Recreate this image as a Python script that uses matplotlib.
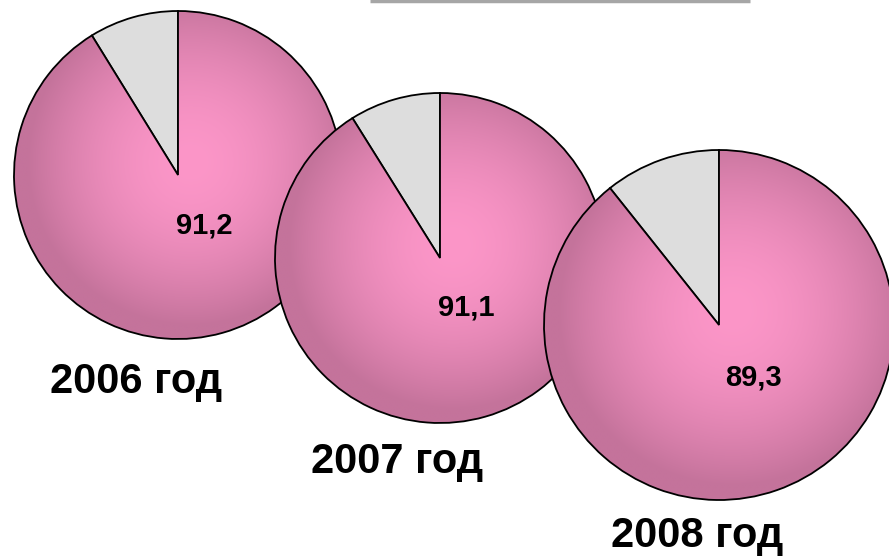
import numpy as np
import matplotlib.pyplot as plt
from matplotlib.colors import to_rgb

W, H = 889, 559

years = ['2006 год', '2007 год', '2008 год']
main_share = [91.2, 91.1, 89.3]
other_share = [8.8, 8.9, 10.7]
main_labels = ['91,2', '91,1', '89,3']

# pie layout in pixel coords (x, y from top), radius
centers = [(178, 175), (440, 258), (719, 325)]
radii = [164, 165, 175]
value_offsets = [(26, 51), (26, 49), (34, 52)]
year_pos = [(136, 393), (397, 473), (697, 547)]

light = np.array(to_rgb('#FC96C8'))
dark = np.array(to_rgb('#C4739B'))
grey = '#DDDDDD'

fig = plt.figure(figsize=(W / 100, H / 100), dpi=100)
ax = fig.add_axes([0, 0, 1, 1])

for i in range(3):
    cx, cy = centers[i]
    r = radii[i]
    z = 2 + 3 * i
    wedges, _ = ax.pie([other_share[i], main_share[i]], colors=[grey, 'none'],
                       startangle=90, counterclock=True,
                       center=(cx, H - cy), radius=r, frame=True,
                       wedgeprops=dict(edgecolor='black', linewidth=1.3))
    grey_w, pink_w = wedges
    grey_w.set_zorder(z)
    pink_w.set_zorder(z + 0.2)

    # radial gradient fill for the main slice
    n = 300
    xs = np.linspace(-1, 1, n)
    gx, gy = np.meshgrid(xs, xs)
    d = np.clip(np.sqrt((gx - 0.08) ** 2 + (gy + 0.08) ** 2), 0, 1)
    t = d ** 1.8
    img = light[None, None, :] * (1 - t[..., None]) + dark[None, None, :] * t[..., None]
    im = ax.imshow(img, extent=[cx - r, cx + r, H - cy - r, H - cy + r],
                   origin='upper', zorder=z + 0.1, interpolation='bilinear')
    im.set_clip_path(pink_w)

    ox, oy = value_offsets[i]
    ax.text(cx + ox, H - cy - oy, main_labels[i], ha='center', va='center',
            fontsize=21, fontweight='bold', family='Liberation Sans',
            zorder=20)
    yx, yy = year_pos[i]
    ax.text(yx, H - yy, years[i], ha='center', va='baseline',
            fontsize=30, fontweight='bold', family='Liberation Sans', zorder=20)

# remnant of a title box at the top
ax.plot([370, 750], [H - 1, H - 1], color='#A6A6A6', lw=2.5, zorder=25,
        solid_capstyle='butt')

ax.set_xlim(0, W)
ax.set_ylim(0, H)
ax.set_aspect('auto')
ax.axis('off')

fig.savefig('out.png', dpi=100)
